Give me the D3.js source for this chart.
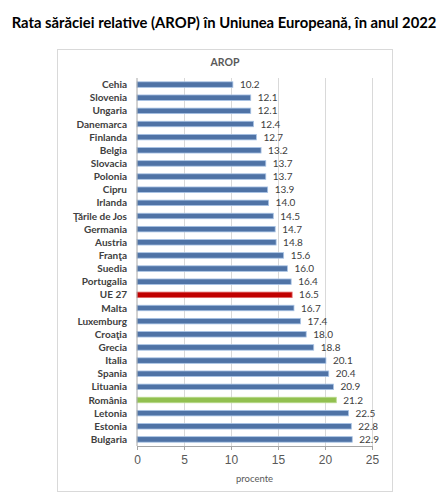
<!DOCTYPE html>
<html>
<head>
<meta charset="utf-8">
<style>
    body {
        margin: 0;
        background: #fff;
        font-family: Lato, 'Open Sans', sans-serif;
    }
    svg {
        display: block;
    }
    .grid line {
        stroke: #d9d9d9;
    }
    .grid .domain {
        display: none;
    }
    .x .domain, .x .tick line {
        stroke: #a6a6a6;
    }
    .x .tick text {
        fill: #595959;
        font-size: 12px;
    }
</style>
</head>
<body>
<svg width="447" height="497"></svg>

<script src="https://d3js.org/d3.v7.min.js"></script>
<script>

    let countries = ["Cehia", "Slovenia", "Ungaria", "Danemarca", "Finlanda", "Belgia", "Slovacia",
        "Polonia", "Cipru", "Irlanda", "Ţările de Jos", "Germania", "Austria", "Franţa", "Suedia",
        "Portugalia", "UE 27", "Malta", "Luxemburg", "Croaţia", "Grecia", "Italia", "Spania",
        "Lituania", "România", "Letonia", "Estonia", "Bulgaria"]

    let arop = [10.2, 12.1, 12.1, 12.4, 12.7, 13.2, 13.7, 13.7, 13.9, 14.0, 14.5, 14.7, 14.8, 15.6,
        16.0, 16.4, 16.5, 16.7, 17.4, 18.0, 18.8, 20.1, 20.4, 20.9, 21.2, 22.5, 22.8, 22.9]

    let xTicks = [0, 5, 10, 15, 20, 25]

    let data = countries.map((c, i) => ({name: c, value: arop[i]}))

    let width = 447
    let height = 497
    let margin = {top: 78, right: 75, bottom: 51, left: 137}

    let svg = d3.select("svg")

    // title
    svg.append("text")
        .attr("x", 224)
        .attr("y", 28)
        .attr("text-anchor", "middle")
        .style("font-weight", "bold")
        .style("font-size", "14.8px")
        .style("fill", "#000")
        .text("Rata sărăciei relative (AROP) în Uniunea Europeană, în anul 2022")

    // chart frame
    svg.append("rect")
        .attr("x", 57.5)
        .attr("y", 49.5)
        .attr("width", 335)
        .attr("height", 442)
        .style("fill", "none")
        .style("stroke", "#d9d9d9")

    svg.append("text")
        .attr("x", 225)
        .attr("y", 66)
        .attr("text-anchor", "middle")
        .style("font-weight", "bold")
        .style("font-size", "10.5px")
        .style("fill", "#595959")
        .text("AROP")

    let x = d3.scaleLinear()
        .domain([0, 25])
        .range([margin.left, width - margin.right])

    let y = d3.scaleBand()
        .domain(countries)
        .range([margin.top, height - margin.bottom])
        .paddingInner(0.58)
        .paddingOuter(0.29)

    // vertical gridlines
    svg.append("g")
        .attr("class", "grid")
        .attr("transform", `translate(0, ${height - margin.bottom})`)
        .call(d3.axisBottom(x).tickValues(xTicks.slice(1)).tickSize(-(height - margin.bottom - margin.top)).tickFormat(""))

    let colorFor = d => d.name == "UE 27" ? "#c00000" : d.name == "România" ? "#92c050" : "#4f73a6"
    let strokeFor = d => d.name == "UE 27" ? "#e06666" : d.name == "România" ? "#b9d98e" : "#a9c4e6"

    svg.append("g")
        .attr("class", "bars")
        .selectAll("rect")
        .data(data)
        .join("rect")
        .attr("x", x(0))
        .attr("y", d => y(d.name))
        .attr("width", d => x(d.value) - x(0))
        .attr("height", y.bandwidth())
        .style("fill", colorFor)
        .style("stroke", strokeFor)
        .style("stroke-width", 0.8)

    // value labels
    svg.append("g")
        .selectAll("text")
        .data(data)
        .join("text")
        .attr("x", d => x(d.value) + 7)
        .attr("y", d => y(d.name) + y.bandwidth() / 2)
        .attr("dy", "0.35em")
        .style("font-size", "10px")
        .style("fill", "#404040")
        .text(d => d3.format(".1f")(d.value))

    // category labels
    svg.append("g")
        .selectAll("text")
        .data(data)
        .join("text")
        .attr("x", margin.left - 10)
        .attr("y", d => y(d.name) + y.bandwidth() / 2)
        .attr("dy", "0.35em")
        .attr("text-anchor", "end")
        .style("font-size", "10px")
        .style("font-weight", "bold")
        .style("fill", "#404040")
        .text(d => d.name)

    // left axis line
    svg.append("line")
        .attr("x1", x(0))
        .attr("x2", x(0))
        .attr("y1", margin.top)
        .attr("y2", height - margin.bottom)
        .style("stroke", "#a6a6a6")

    svg.append("g")
        .attr("class", "x axis")
        .attr("transform", `translate(0, ${height - margin.bottom})`)
        .call(d3.axisBottom(x).tickValues(xTicks).tickSize(4).tickSizeOuter(0).tickPadding(5))

    svg.append("text")
        .attr("x", (x(0) + x(25)) / 2)
        .attr("y", 482)
        .attr("text-anchor", "middle")
        .style("font-size", "9.5px")
        .style("fill", "#595959")
        .text("procente")

</script>
</body>
</html>
